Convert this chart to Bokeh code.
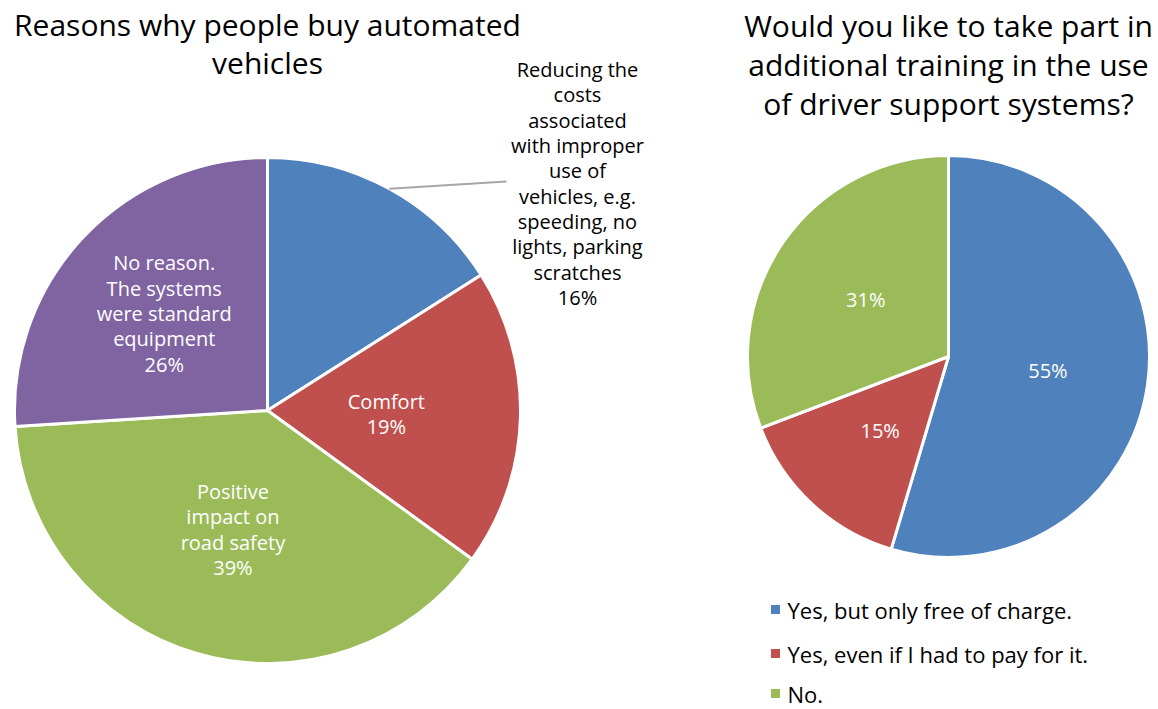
import numpy as np
from bokeh.plotting import figure
from bokeh.models import Range1d, ColumnDataSource
from bokeh.core.properties import value
from bokeh.embed import file_html
from bokeh.resources import INLINE

# ---- data ----
left_title = "Reasons why people buy automated\nvehicles"
left_categories = [
    "Reducing the\ncosts\nassociated\nwith improper\nuse of\nvehicles, e.g.\nspeeding, no\nlights, parking\nscratches",
    "Comfort",
    "Positive\nimpact on\nroad safety",
    "No reason.\nThe systems\nwere standard\nequipment",
]
left_values = [16, 19, 39, 26]
left_colors = ["#4F81BD", "#C0504D", "#9BBB59", "#8064A2"]

right_title = "Would you like to take part in\nadditional training in the use\nof driver support systems?"
right_categories = ["Yes, but only free of charge.", "Yes, even if I had to pay for it.", "No."]
right_values = [54.6, 14.6, 30.8]
right_pct_labels = ["55%", "15%", "31%"]
right_colors = ["#4F81BD", "#C0504D", "#9BBB59"]

W, H = 1158, 709
FONT = "Open Sans"
LBL = "20px"
LH = 0.94

p = figure(width=W, height=H, output_backend="svg", toolbar_location=None,
           x_range=Range1d(0, W), y_range=Range1d(0, H), min_border=0)
p.axis.visible = False
p.grid.visible = False
p.outline_line_color = None
p.background_fill_color = "white"
p.border_fill_color = "white"


def Y(y):
    return H - y


def angles(vals):
    vals = np.asarray(vals, dtype=float)
    frac = vals / vals.sum()
    cum = np.concatenate([[0], np.cumsum(frac)])
    start = np.pi / 2 - cum[:-1] * 2 * np.pi
    end = np.pi / 2 - cum[1:] * 2 * np.pi
    mid = (start + end) / 2
    return start, end, mid


def pie(cx, cy, R, vals, colors):
    start, end, mid = angles(vals)
    src = ColumnDataSource(dict(x=[cx] * len(vals), y=[Y(cy)] * len(vals),
                                start=start, end=end, color=colors))
    p.wedge(x="x", y="y", radius=R, start_angle="end", end_angle="start",
            fill_color="color", line_color="white", line_width=3, source=src)
    return mid


# ---- left pie ----
LCX, LCY, LR = 267, 410, 253
lmid = pie(LCX, LCY, LR, left_values, left_colors)
lpct = ["%d%%" % v for v in left_values]

frac_r = [None, 0.47, 0.49, 0.56]
for i in range(1, 4):
    lx = LCX + frac_r[i] * LR * np.cos(lmid[i])
    ly = Y(LCY) + frac_r[i] * LR * np.sin(lmid[i])
    p.text(x=[lx], y=[ly], text=[left_categories[i] + "\n" + lpct[i]],
           text_font=value(FONT), text_font_size=LBL, text_color="white",
           text_align="center", text_baseline="middle", text_line_height=LH)

sx = LCX + LR * np.cos(lmid[0])
sy = Y(LCY) + LR * np.sin(lmid[0])
p.line(x=[sx, 506], y=[sy, Y(181)], line_color="#A6A6A6", line_width=2)
p.text(x=[577], y=[Y(183)], text=[left_categories[0] + "\n" + lpct[0]],
       text_font=value(FONT), text_font_size=LBL, text_color="black",
       text_align="center", text_baseline="middle", text_line_height=LH)

p.text(x=[LCX], y=[Y(43)], text=[left_title], text_font=value(FONT),
       text_font_size="30px", text_color="black", text_align="center",
       text_baseline="middle", text_line_height=0.94)

# ---- right pie ----
RCX, RCY, RR = 948, 356, 201
rmid = pie(RCX, RCY, RR, right_values, right_colors)
for i in range(3):
    lx = RCX + 0.5 * RR * np.cos(rmid[i])
    ly = Y(RCY) + 0.5 * RR * np.sin(rmid[i])
    p.text(x=[lx], y=[ly], text=[right_pct_labels[i]],
           text_font=value(FONT), text_font_size=LBL, text_color="white",
           text_align="center", text_baseline="middle")

p.text(x=[948], y=[Y(64)], text=[right_title], text_font=value(FONT),
       text_font_size="30px", text_color="black", text_align="center",
       text_baseline="middle", text_line_height=0.96)

# legend
leg_y = [609, 653, 693]
p.scatter(x=[775] * 3, y=[Y(v) for v in leg_y], marker="square", size=9,
          fill_color=right_colors, line_color=None)
p.text(x=[787] * 3, y=[Y(v) for v in leg_y], text=right_categories,
       text_font=value(FONT), text_font_size="22px", text_color="black",
       text_align="left", text_baseline="middle")

open("out.html", "w").write(file_html(p, INLINE))
